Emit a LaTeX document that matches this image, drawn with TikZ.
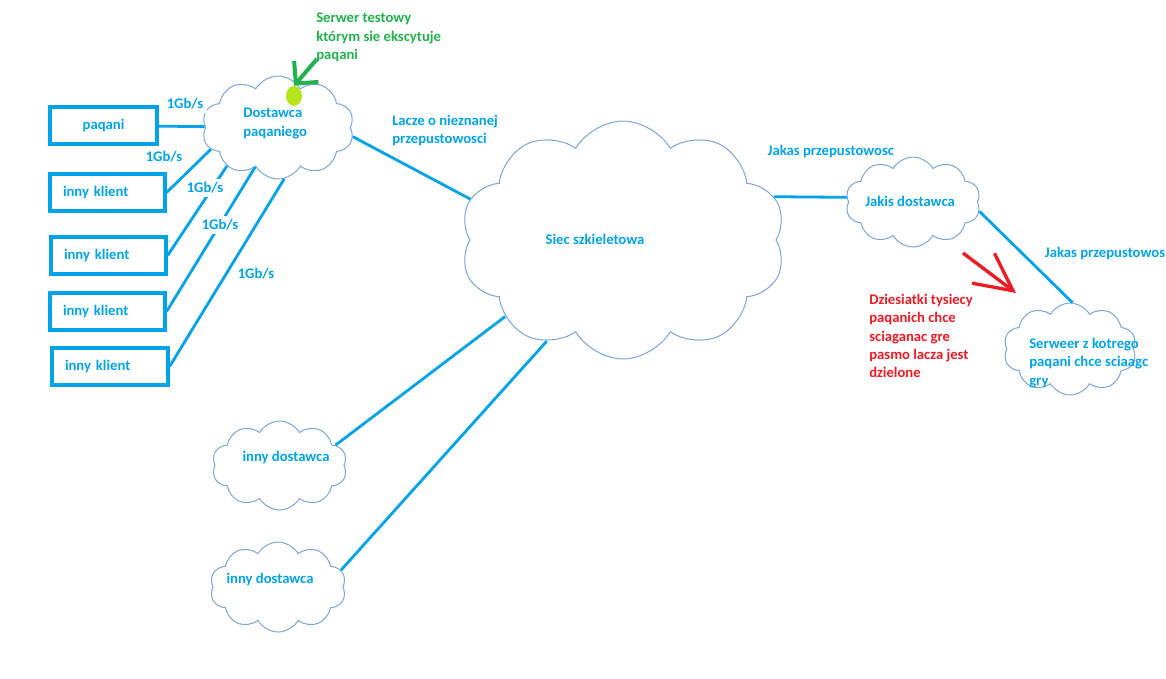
\documentclass[tikz,border=0pt]{standalone}
\usepackage{fontspec}
\setmainfont{Carlito}
\usetikzlibrary{shapes.symbols,shapes.geometric,arrows.meta}
\definecolor{lblue}{RGB}{0,162,232}
\definecolor{cloudc}{RGB}{125,165,215}
\definecolor{ggreen}{RGB}{34,177,76}
\definecolor{glime}{RGB}{181,230,29}
\definecolor{rred}{RGB}{237,28,36}

\begin{document}
\begin{tikzpicture}[x=0.75pt,y=-0.75pt,
        every node/.style={font=\fontsize{11}{13.7}\selectfont\bfseries, text=lblue},
        chmura/.style={cloud, cloud puffs=10, cloud puff arc=120, cloud ignores aspect,
            draw=cloudc, line width=0.75pt, inner sep=0pt},
        klient/.style={draw=lblue, line width=2.4pt, minimum height=27.75pt,
            text width=66.75pt, inner xsep=9.75pt, align=left},
        lacze/.style={draw=lblue, line width=2.1pt},
        pasmo/.style={fill=white, inner sep=2.5pt},
        opis/.style={anchor=north west, align=left, inner sep=0pt}]
        \useasboundingbox[fill=white] (0,0) rectangle (1166,678);
        % --- Klienci ---
        \node[klient, text width=61.5pt, inner xsep=9.375pt, align=center] (paqani) at (103.5,125.5) {paqani};
        \node[klient] (k1) at (107.5,192.5) {inny klient};
        \node[klient] (k2) at (108.5,255.5) {inny klient};
        \node[klient] (k3) at (107.5,311.5) {inny klient};
        \node[klient, text width=67.5pt] (k4) at (110,366.5) {inny klient};
        % --- Chmury ---
        \node[chmura, minimum width=114pt, minimum height=77.25pt] (dost) at (278,127.5) {};
        \node[chmura, minimum width=244pt, minimum height=178.5pt] (siec) at (623,240) {};
        \node[chmura, minimum width=101.25pt, minimum height=67.5pt] (jakis) at (913,202) {};
        \node[chmura, minimum width=99.75pt, minimum height=69pt] (serwer) at (1070,349) {};
        \node[chmura, minimum width=101.25pt, minimum height=66.75pt] (inny1) at (279.5,465.5) {};
        \node[chmura, minimum width=102pt, minimum height=67.5pt] (inny2) at (278,587) {};
        % --- Lacza ---
        \draw[lacze] (paqani) -- (dost);
        \draw[lacze] (k1.east) -- (dost.198);
        \draw[lacze] (k2.east) -- (dost.217);
        \draw[lacze] (k3.east) -- (dost.240);
        \draw[lacze] (k4.east) -- (dost.277);
        \draw[lacze] (dost.353) -- (siec.165);
        \draw[lacze] (siec.16) -- (jakis.176);
        \draw[lacze] (jakis.352) -- (serwer.87);
        \draw[lacze] (siec.213) -- (inny1.20);
        \draw[lacze] (siec.233) -- (inny2.15);
        % --- Przepustowosci ---
        \node[pasmo] (g0) at (185,104) {1Gb/s};
        \node[pasmo] (g1) at (164,157) {1Gb/s};
        \node[pasmo] (g2) at (205,188) {1Gb/s};
        \node[pasmo] (g3) at (220,225) {1Gb/s};
        \node[pasmo] (g4) at (256,274) {1Gb/s};
        \node[opis] (lacze-txt) at (392,115) {Lacze o nieznanej\\przepustowosci};
        \node[anchor=west] (pasmo1-txt) at (763,152) {Jakas przepustowosc};
        \node[anchor=east, inner xsep=0.5pt] (pasmo2-txt) at (1166,254) {Jakas przepustowos};
        % --- Opisy chmur ---
        \node[opis] (dost-txt) at (243,108) {Dostawca\\paqaniego};
        \node (siec-txt) at (595,239) {Siec szkieletowa};
        \node (jakis-txt) at (910,201) {Jakis dostawca};
        \node[opis] (serwer-txt) at (1029,338) {Serweer z kotrego\\paqani chce sciaagc\\gry};
        \node (inny1-txt) at (286,458) {inny dostawca};
        \node (inny2-txt) at (270,579) {inny dostawca};
        % --- Serwer testowy ---
        \node[ellipse, fill=glime, minimum width=12pt, minimum height=15pt, inner sep=0pt] (kropka) at (294,96) {};
        \coordinate (gstart) at (317,59);
        \draw[ggreen, line width=3pt, -{Straight Barb[length=12pt,width=24pt]}] (gstart) -- (kropka.north);
        \node[opis, text=ggreen] (testowy-txt) at (316,13) {Serwer testowy\\którym sie ekscytuje\\paqani};
        % --- Tlum ---
        \coordinate (rstart) at (963,253);
        \coordinate (rtip) at (1016,293);
        \draw[rred, line width=2.5pt, -{Straight Barb[length=28pt,width=28pt]}] (rstart) -- (rtip);
        \node[opis, text=rred] (tlum-txt) at (869,294) {Dziesiatki tysiecy\\paqanich chce\\sciaganac gre\\pasmo lacza jest\\dzielone};
    \end{tikzpicture}
\end{document}
